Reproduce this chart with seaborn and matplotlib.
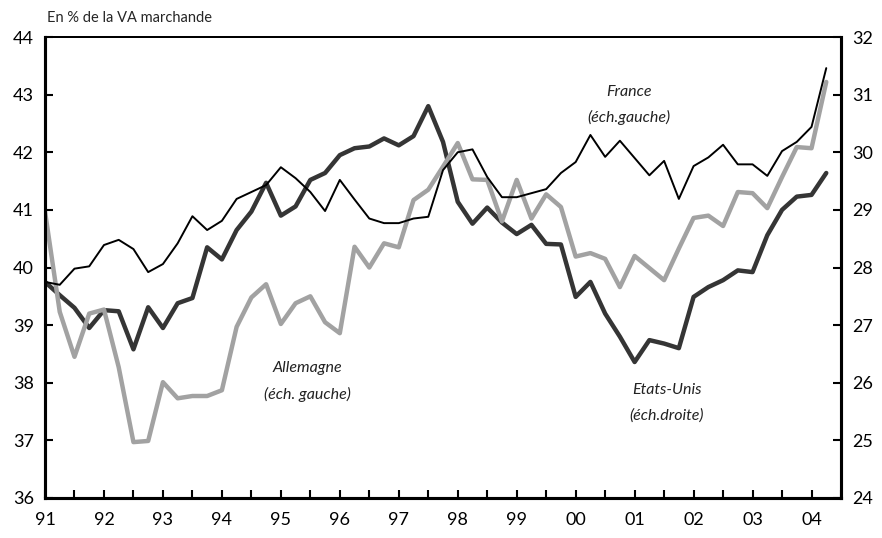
import matplotlib
matplotlib.use('Agg')
from matplotlib import pyplot as plt
from matplotlib.ticker import MultipleLocator, FixedLocator
import numpy as np
import pandas as pd
import seaborn as sns

# quarterly points, 1991Q1 .. 2004Q2
quarters = [1991 + k * 0.25 for k in range(54)]

# France, left scale (% of market value added)
france = [39.75, 39.70, 39.98, 40.02, 40.39, 40.48, 40.32, 39.92, 40.06, 40.42,
          40.89, 40.65, 40.81, 41.19, 41.31, 41.43, 41.74, 41.55, 41.31, 40.98,
          41.52, 41.18, 40.85, 40.77, 40.77, 40.85, 40.88, 41.69, 42.00, 42.05,
          41.57, 41.22, 41.22, 41.29, 41.36, 41.64, 41.83, 42.30, 41.92, 42.20,
          41.90, 41.60, 41.85, 41.19, 41.76, 41.91, 42.13, 41.79, 41.79, 41.59,
          42.02, 42.18, 42.44, 43.46]

# Germany, left scale
allemagne = [40.97, 39.23, 38.45, 39.20, 39.27, 38.27, 36.97, 36.99, 38.01, 37.73,
             37.77, 37.77, 37.87, 38.97, 39.48, 39.71, 39.02, 39.38, 39.50, 39.05,
             38.86, 40.36, 40.00, 40.42, 40.35, 41.17, 41.35, 41.75, 42.16, 41.53,
             41.52, 40.80, 41.52, 40.85, 41.27, 41.05, 40.19, 40.25, 40.15, 39.66,
             40.20, 39.99, 39.78, 40.33, 40.86, 40.90, 40.72, 41.31, 41.29, 41.03,
             41.57, 42.09, 42.07, 43.22]

# United States, right scale
etats_unis = [27.75, 27.52, 27.30, 26.95, 27.26, 27.24, 26.58, 27.31, 26.95, 27.38,
              27.47, 28.35, 28.14, 28.65, 28.97, 29.47, 28.90, 29.06, 29.52, 29.64,
              29.95, 30.07, 30.10, 30.24, 30.12, 30.28, 30.80, 30.18, 29.14, 28.76,
              29.04, 28.78, 28.58, 28.74, 28.41, 28.40, 27.49, 27.75, 27.20, 26.80,
              26.36, 26.74, 26.68, 26.60, 27.49, 27.66, 27.78, 27.95, 27.92, 28.56,
              29.00, 29.23, 29.26, 29.64]

year_ticks = list(range(1991, 2005))
year_labels = [str(y)[2:] for y in year_ticks]

df = pd.DataFrame({'date': quarters, 'France': france,
                   'Allemagne': allemagne, 'Etats-Unis': etats_unis})

sns.set_style('white')
plt.rcParams['font.family'] = ['Lato', 'DejaVu Sans']

fig = plt.figure(figsize=(8.82, 5.38), dpi=100)
ax = fig.add_axes([45 / 882, 1 - 498 / 538, (841 - 45) / 882, (498 - 37) / 538])
ax2 = ax.twinx()

sns.lineplot(x='date', y='Allemagne', data=df, ax=ax, color='#a2a2a2', linewidth=3.2)
sns.lineplot(x='date', y='France', data=df, ax=ax, color='#000000', linewidth=1.4)
sns.lineplot(x='date', y='Etats-Unis', data=df, ax=ax2, color='#353535', linewidth=3.2)
# keep France on top of the US line
ax.set_zorder(ax2.get_zorder() + 1)
ax.patch.set_visible(False)

ax.set_xlim(1991, 2004.5)
ax.set_ylim(36, 44)
ax2.set_ylim(24, 32)
ax.set_xlabel('')
ax.set_ylabel('')
ax2.set_ylabel('')

ax.xaxis.set_major_locator(FixedLocator(year_ticks))
ax.set_xticklabels(year_labels)
ax.xaxis.set_minor_locator(MultipleLocator(0.5))
ax.yaxis.set_major_locator(MultipleLocator(1))
ax2.yaxis.set_major_locator(MultipleLocator(1))

for a in (ax, ax2):
    a.tick_params(axis='both', which='both', direction='in', length=6, width=1.5,
                  colors='black', labelsize=13, pad=8)
    for side in ('left', 'right', 'bottom'):
        a.spines[side].set_linewidth(2.2)
        a.spines[side].set_color('black')
    a.spines['top'].set_linewidth(1.4)
    a.spines['top'].set_color('black')
ax.tick_params(axis='y', which='both', left=True, right=False)
ax.tick_params(axis='x', which='both', bottom=True, top=False, pad=10)
ax2.tick_params(axis='y', which='both', right=True, left=False)

fig.text(47 / 882, 1 - 18 / 538, 'En % de la VA marchande', fontsize=10.5,
         ha='left', va='center')

note = dict(fontsize=11.5, style='italic', ha='center', va='center', color='#222222')
ax.text(2000.9, 43.05, 'France', **note)
ax.text(2000.9, 42.6, '(éch.gauche)', **note)
ax.text(1995.45, 38.25, 'Allemagne', **note)
ax.text(1995.45, 37.8, '(éch. gauche)', **note)
ax.text(2001.55, 37.87, 'Etats-Unis', **note)
ax.text(2001.55, 37.43, '(éch.droite)', **note)

fig.savefig('out.png', dpi=100)
